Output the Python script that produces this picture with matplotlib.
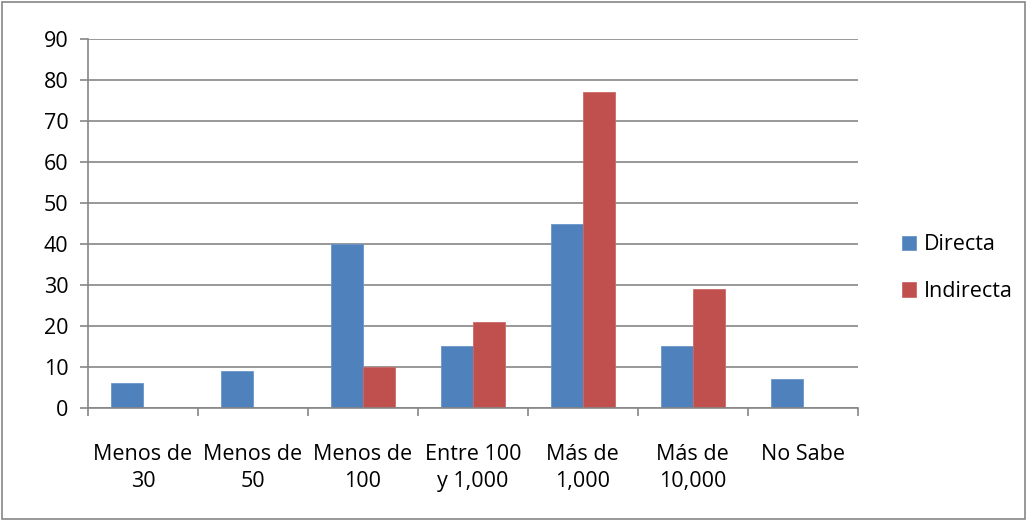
import numpy as np
import matplotlib
matplotlib.use("Agg")
import matplotlib.pyplot as plt
from matplotlib.patches import Rectangle

categories = ["Menos de\n30", "Menos de\n50", "Menos de\n100", "Entre 100\ny 1,000",
              "Más de\n1,000", "Más de\n10,000", "No Sabe"]
directa = [6, 9, 40, 15, 45, 15, 7]
indirecta = [0, 0, 10, 21, 77, 29, 0]

plt.rcParams['font.family'] = ['Open Sans', 'DejaVu Sans']
fs = 15.5

fig = plt.figure(figsize=(10.29, 5.21), dpi=100)
ax = fig.add_axes([0.0855, 0.217, 0.748, 0.708])

x = np.arange(len(categories))
w = 0.29
ax.bar(x - w / 2, directa, w, color="#4F81BD", label="Directa", edgecolor="#6A95C8", linewidth=0.6)
ax.bar(x + w / 2, indirecta, w, color="#C0504D", label="Indirecta", edgecolor="#CC6A67", linewidth=0.6)

ax.set_xlim(-0.5, len(categories) - 0.5)
ax.set_ylim(0, 90)
ax.set_yticks(range(0, 91, 10))
ax.yaxis.grid(True, color="#868686", linewidth=1.2)
ax.set_axisbelow(True)

ax.set_xticks(np.arange(-0.5, len(categories), 1))
ax.set_xticklabels([])
ax.set_xticks(x, minor=True)
ax.set_xticklabels(categories, minor=True, fontsize=fs, linespacing=1.4)
ax.tick_params(axis="x", which="major", length=6, color="#868686", width=1.2)
ax.tick_params(axis="x", which="minor", length=0, pad=26)
ax.tick_params(axis="y", length=6, color="#868686", width=1.2, labelsize=fs, pad=8)

for s in ["top", "right"]:
    ax.spines[s].set_visible(False)
for s in ["left", "bottom"]:
    ax.spines[s].set_color("#868686")
    ax.spines[s].set_linewidth(1.2)

leg = fig.legend(loc="center left", bbox_to_anchor=(0.858, 0.485), frameon=False,
                 fontsize=fs, handlelength=0.65, handleheight=0.65,
                 labelspacing=1.2, handletextpad=0.35)

fig.patches.append(Rectangle((0.002, 0.003), 0.994, 0.993, transform=fig.transFigure,
                             fill=False, edgecolor="#868686", linewidth=1.2))

fig.savefig("out.png", dpi=100, facecolor="white")
